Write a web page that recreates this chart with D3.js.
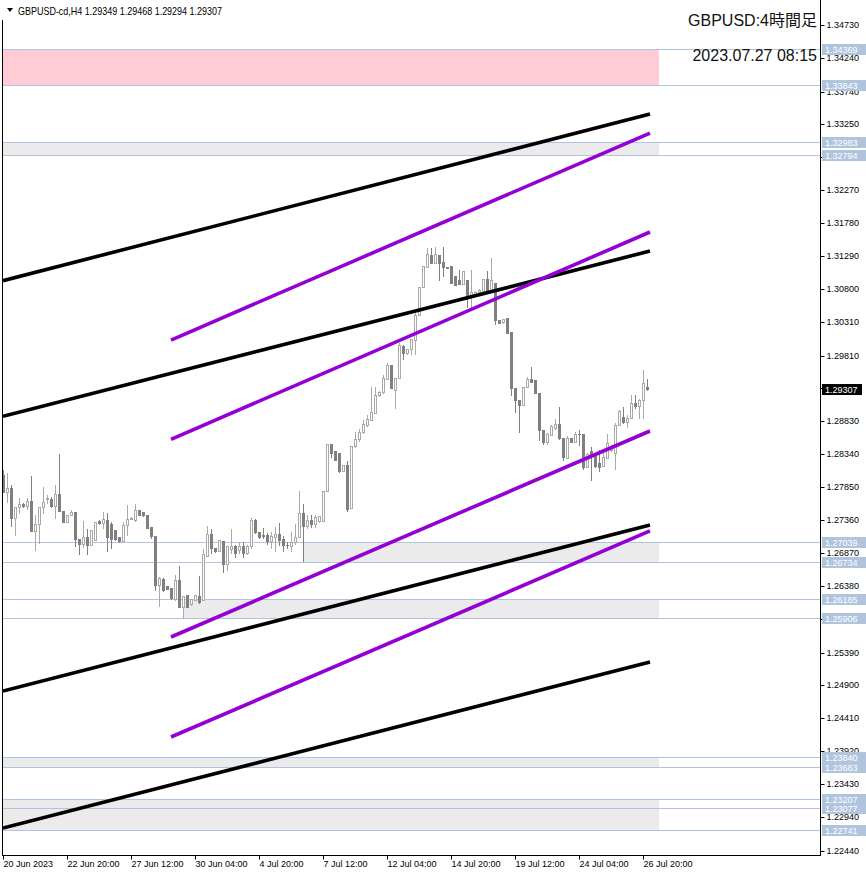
<!DOCTYPE html>
<html><head><meta charset="utf-8">
<script src="https://cdn.jsdelivr.net/npm/d3@7/dist/d3.min.js"></script>
<style>body{margin:0;background:#fff}svg{display:block}</style>
</head><body>
<script>
// ---------------- DATA ----------------
const symbolInfo = "GBPUSD-cd,H4  1.29349 1.29468 1.29294 1.29307";
const titleText = "GBPUSD:4時間足";
const stampText = "2023.07.27 08:15";
const lastPrice = 1.29307;

const opens = [1.28035,1.27777,1.27836,1.27390,1.27554,1.27603,1.27578,1.27643,1.27192,1.27306,
1.27554,1.27678,1.27678,1.27578,1.27752,1.27489,1.27330,1.27430,1.27474,1.27077,
1.27008,1.27107,1.26993,1.27058,1.27350,1.27316,1.27365,1.27301,1.27216,1.27107,
1.27043,1.27281,1.27380,1.27365,1.27504,1.27479,1.27440,1.27256,1.27117,1.26398,
1.26487,1.26373,1.26348,1.26185,1.26462,1.26066,1.26239,1.26115,1.26175,1.26234,
1.26165,1.26830,1.27157,1.26944,1.26894,1.27053,1.26705,1.26938,1.26978,1.26909,
1.26978,1.26869,1.26968,1.27365,1.27191,1.27132,1.27132,1.27043,1.27107,1.27155,
1.27082,1.26990,1.26968,1.27028,1.27107,1.27464,1.27266,1.27365,1.27306,1.27340,
1.27340,1.27787,1.28491,1.28382,1.28357,1.28099,1.28183,1.27539,1.28466,1.28565,
1.28679,1.28769,1.28853,1.28962,1.29225,1.29274,1.29458,1.29671,1.29299,1.29473,
1.29954,1.29845,1.29904,1.30043,1.30415,1.30827,1.31134,1.31308,1.31194,1.31308,
1.31199,1.31124,1.31144,1.30996,1.30936,1.30876,1.30936,1.30688,1.30713,1.30752,
1.30777,1.30946,1.30787,1.30886,1.30341,1.30311,1.30366,1.30167,1.29324,1.29150,
1.29076,1.29349,1.29458,1.29448,1.29250,1.28704,1.28520,1.28630,1.28729,1.28788,
1.28580,1.28282,1.28580,1.28530,1.28645,1.28640,1.28149,1.28382,1.28317,1.28218,
1.28159,1.28282,1.28397,1.28357,1.28778,1.28892,1.28828,1.28878,1.29111,1.29061,
1.29150,1.29349];
const highs = [1.28100,1.28060,1.27886,1.27554,1.27688,1.27620,1.27688,1.28020,1.27440,1.27554,
1.27851,1.27737,1.27700,1.27886,1.28350,1.27489,1.27440,1.27504,1.27474,1.27077,
1.27345,1.27226,1.27216,1.27335,1.27365,1.27479,1.27464,1.27330,1.27216,1.27107,
1.27330,1.27588,1.27400,1.27603,1.27504,1.27479,1.27440,1.27256,1.27117,1.26510,
1.26500,1.26380,1.26348,1.26547,1.26671,1.26234,1.26239,1.26190,1.26250,1.26522,
1.26929,1.27276,1.27226,1.26944,1.27058,1.27053,1.26968,1.27231,1.26990,1.27028,
1.27028,1.26990,1.27390,1.27375,1.27191,1.27241,1.27167,1.27191,1.27256,1.27325,
1.27117,1.27028,1.27191,1.27306,1.27801,1.27603,1.27439,1.27439,1.27439,1.27420,
1.27796,1.28491,1.28491,1.28382,1.28357,1.28183,1.28233,1.28466,1.28679,1.28714,
1.28853,1.28927,1.29349,1.29349,1.29280,1.29522,1.29696,1.29671,1.29473,1.29994,
1.29970,1.29910,1.30060,1.30440,1.30827,1.31144,1.31407,1.31407,1.31432,1.31308,
1.31432,1.31130,1.31144,1.30996,1.31085,1.31075,1.30936,1.31085,1.30770,1.30800,
1.30946,1.31075,1.31258,1.30886,1.30341,1.30360,1.30366,1.30167,1.29324,1.29150,
1.29349,1.29498,1.29646,1.29448,1.29250,1.28704,1.28650,1.28770,1.28863,1.29041,
1.28580,1.28615,1.28590,1.28679,1.28704,1.28640,1.28357,1.28456,1.28317,1.28406,
1.28416,1.28645,1.28480,1.28800,1.29002,1.29041,1.28927,1.29225,1.29225,1.29160,
1.29597,1.29468];
const lows = [1.27777,1.27623,1.27266,1.27142,1.27464,1.27560,1.27530,1.27192,1.26919,1.27018,
1.27464,1.27613,1.27560,1.27390,1.27489,1.27330,1.27330,1.27430,1.26968,1.26859,
1.26958,1.26854,1.26993,1.27058,1.27300,1.27241,1.26894,1.26944,1.27060,1.27030,
1.27043,1.27132,1.27370,1.27340,1.27430,1.27420,1.27241,1.27100,1.26324,1.26076,
1.26300,1.26330,1.26190,1.26175,1.26066,1.25902,1.26066,1.26100,1.26175,1.26125,
1.26165,1.26830,1.26869,1.26880,1.26894,1.26581,1.26621,1.26869,1.26809,1.26869,
1.26809,1.26850,1.26943,1.27167,1.27100,1.27092,1.27008,1.26943,1.26894,1.26993,
1.26894,1.26943,1.26894,1.27008,1.27107,1.26745,1.27241,1.27256,1.27256,1.27330,
1.27340,1.27787,1.28297,1.28248,1.28074,1.28099,1.27489,1.27539,1.28456,1.28545,
1.28655,1.28760,1.28853,1.28962,1.29210,1.29250,1.29458,1.29324,1.29026,1.29473,
1.29756,1.29835,1.29835,1.29835,1.30415,1.30827,1.31134,1.31194,1.31194,1.30936,
1.30996,1.31110,1.30886,1.30862,1.30872,1.30876,1.30539,1.30539,1.30700,1.30740,
1.30777,1.30777,1.30787,1.30281,1.30290,1.30300,1.30152,1.29225,1.28977,1.28679,
1.29076,1.29349,1.29410,1.29250,1.28555,1.28500,1.28500,1.28620,1.28720,1.28570,
1.28258,1.28282,1.28520,1.28520,1.28481,1.28119,1.28149,1.27960,1.28149,1.28099,
1.28159,1.28282,1.28390,1.28119,1.28778,1.28813,1.28744,1.28878,1.29026,1.28878,
1.28878,1.29294];
const closes = [1.27777,1.27836,1.27390,1.27554,1.27603,1.27578,1.27643,1.27192,1.27306,1.27554,
1.27628,1.27683,1.27578,1.27752,1.27489,1.27330,1.27430,1.27479,1.27077,1.27008,
1.27107,1.26993,1.27216,1.27335,1.27311,1.27380,1.27107,1.27077,1.27077,1.27043,
1.27281,1.27380,1.27385,1.27504,1.27430,1.27430,1.27241,1.27117,1.26398,1.26497,
1.26314,1.26338,1.26199,1.26462,1.26066,1.26234,1.26066,1.26185,1.26239,1.26135,
1.26854,1.27157,1.26944,1.26894,1.27058,1.26705,1.26968,1.26978,1.26869,1.26978,
1.26869,1.26968,1.27365,1.27191,1.27107,1.27127,1.27043,1.27127,1.27152,1.27067,
1.26993,1.26983,1.27028,1.27107,1.27464,1.27266,1.27365,1.27306,1.27405,1.27415,
1.27796,1.28491,1.28357,1.28248,1.28099,1.28183,1.27524,1.28466,1.28565,1.28679,
1.28793,1.28868,1.28977,1.29225,1.29264,1.29473,1.29671,1.29324,1.29473,1.29969,
1.29855,1.29904,1.30053,1.30415,1.30827,1.31144,1.31323,1.31194,1.31323,1.31194,
1.31124,1.31120,1.30896,1.30862,1.30872,1.31075,1.30688,1.30762,1.30762,1.30787,
1.30946,1.30777,1.30936,1.30341,1.30301,1.30351,1.30152,1.29324,1.29150,1.29076,
1.29349,1.29458,1.29423,1.29250,1.28704,1.28520,1.28645,1.28764,1.28788,1.28580,
1.28297,1.28580,1.28530,1.28645,1.28640,1.28149,1.28347,1.28347,1.28159,1.28149,
1.28307,1.28506,1.28466,1.28778,1.28987,1.28828,1.28878,1.29111,1.29066,1.29150,
1.29408,1.29307];

// time axis labels (bar index of each label)
const timeLabelBars = [0,16,32,48,64,80,96,112,128,144,160];
const timeLabels = ["20 Jun 2023","22 Jun 20:00","27 Jun 12:00","30 Jun 04:00","4 Jul 20:00",
  "7 Jul 12:00","12 Jul 04:00","14 Jul 20:00","19 Jul 12:00","24 Jul 04:00","26 Jul 20:00"];

// price axis tick labels
const priceTicks = [1.34730,1.34240,1.33740,1.33250,1.32760,1.32270,1.31780,1.31290,1.30800,1.30310,
  1.29810,1.29320,1.28830,1.28340,1.27850,1.27360,1.26870,1.26380,1.25890,1.25390,1.24900,1.24410,
  1.23920,1.23430,1.22940,1.22440];

// horizontal levels
const levels = [1.34369,1.33843,1.32983,1.32794,1.27039,1.26734,1.26185,1.25906,1.23840,1.23683,1.23207,1.23077,1.22741];

// zones (rectangles): top, bottom, start bar (-1 = chart left), kind
const zoneTops    = [1.34369,1.32983,1.27039,1.26185,1.23840,1.23207];
const zoneBottoms = [1.33843,1.32794,1.26734,1.25906,1.23683,1.22741];
const zoneStarts  = [-1,-1,75,45,-1,-1];
const zoneKinds   = ["pink","grey","grey","grey","grey","grey"];
const zoneEndBar = 164;

// channel lines: [bar0, price0, bar1, price1]
const blackLines = [
  [0,1.30925,161.75,1.33405],
  [0,1.28905,161.75,1.31366],
  [0,1.24817,161.75,1.27288],
  [0,1.22778,161.75,1.25249]
];
const purpleLines = [
  [42,1.30041,161.75,1.33122],
  [42,1.28563,161.75,1.31649],
  [42,1.25621,161.75,1.28687],
  [42,1.24132,161.75,1.27199]
];

// ---------------- DRAW ----------------
const W = 866, H = 874;
const plotL = 2, plotR = 820, plotB = 855;
const svg = d3.select("body").append("svg").attr("width", W).attr("height", H)
  .style("font-family", "'Liberation Sans', Arial, sans-serif");
svg.append("rect").attr("width", W).attr("height", H).attr("fill", "#fff");

const x = d3.scaleLinear().domain([0, 161]).range([3, 647]);
const y = d3.scaleLinear().domain([1.22440, 1.34730]).range([850.7, 25]);

svg.append("defs").append("clipPath").attr("id", "plot")
  .append("rect").attr("x", plotL + 1).attr("y", 0).attr("width", plotR - plotL - 1).attr("height", plotB);

const plot = svg.append("g").attr("clip-path", "url(#plot)");

// zones
const zoneColor = {pink: "#ffccd5", grey: "#ebebeb"};
zoneTops.forEach((t, i) => {
  const x0 = zoneStarts[i] < 0 ? plotL : Math.round(x(zoneStarts[i]));
  const x1 = Math.round(x(zoneEndBar));
  const y0 = Math.round(y(t)), y1 = Math.round(y(zoneBottoms[i]));
  plot.append("rect").attr("x", x0).attr("y", y0).attr("width", x1 - x0).attr("height", y1 - y0)
    .attr("fill", zoneColor[zoneKinds[i]]);
});

// level lines
levels.forEach(l => {
  const yy = Math.round(y(l)) + 0.5;
  plot.append("line").attr("x1", plotL).attr("x2", plotR).attr("y1", yy).attr("y2", yy)
    .attr("stroke", "#b0c4de").attr("stroke-width", 1);
});

// candles
const bullCol = "#a9a9a9", bearCol = "#808080";
const cg = plot.append("g");
opens.forEach((o, i) => {
  const c = closes[i], h = highs[i], l = lows[i];
  const cx = Math.round(x(i));
  const bull = c >= o;
  const col = bull ? bullCol : bearCol;
  const yh = Math.round(y(Math.max(h, o, c))), yl = Math.round(y(Math.min(l, o, c)));
  const yt = Math.round(y(Math.max(o, c))), yb = Math.round(y(Math.min(o, c)));
  cg.append("rect").attr("x", cx).attr("y", yh).attr("width", 1).attr("height", yl - yh + 1).attr("fill", col);
  if (bull) {
    cg.append("rect").attr("x", cx - 0.5).attr("y", yt + 0.5).attr("width", 2).attr("height", Math.max(0, yb - yt))
      .attr("fill", "#fff").attr("stroke", col).attr("stroke-width", 1);
  } else {
    cg.append("rect").attr("x", cx - 1).attr("y", yt).attr("width", 3).attr("height", Math.max(1, yb - yt + 1))
      .attr("fill", col);
  }
});

// channel lines
function drawLines(arr, color) {
  arr.forEach(d => {
    plot.append("line").attr("x1", x(d[0])).attr("y1", y(d[1])).attr("x2", x(d[2])).attr("y2", y(d[3]))
      .attr("stroke", color).attr("stroke-width", 3.6).attr("stroke-linecap", "butt");
  });
}
drawLines(blackLines, "#000");
drawLines(purpleLines, "#9400d3");

// frame
svg.append("line").attr("x1", plotL + 0.5).attr("x2", plotL + 0.5).attr("y1", 20).attr("y2", plotB + 0.5).attr("stroke", "#000");
svg.append("line").attr("x1", plotR + 0.5).attr("x2", plotR + 0.5).attr("y1", 0).attr("y2", plotB + 0.5).attr("stroke", "#000");
svg.append("line").attr("x1", plotL).attr("x2", plotR + 1).attr("y1", plotB + 0.5).attr("y2", plotB + 0.5).attr("stroke", "#000");

// price axis
const yAxis = d3.axisRight(y).tickValues(priceTicks).tickFormat(d3.format(".5f")).tickSize(4).tickPadding(2);
const ya = svg.append("g").attr("transform", `translate(${plotR + 0.5},0)`).call(yAxis);
ya.select(".domain").remove();
ya.selectAll(".tick line").attr("stroke", "#000");
ya.selectAll(".tick text").attr("font-size", 9).attr("font-family", "'Liberation Sans', Arial, sans-serif").attr("fill", "#000");
ya.selectAll(".tick").attr("transform", d => `translate(0,${Math.round(y(d)) + 0.5})`);

// highlighted level labels
levels.forEach(l => {
  const yy = Math.round(y(l));
  svg.append("rect").attr("x", 822).attr("y", yy - 5).attr("width", 44).attr("height", 11).attr("fill", "#b0c4de");
  svg.append("text").attr("x", 825).attr("y", yy + 4).attr("font-size", 9).attr("fill", "#fff").text(d3.format(".5f")(l));
});
// last price label
{
  const yy = Math.round(y(lastPrice));
  svg.append("rect").attr("x", 822).attr("y", yy - 5).attr("width", 40).attr("height", 11).attr("fill", "#000");
  svg.append("text").attr("x", 825).attr("y", yy + 4).attr("font-size", 9).attr("fill", "#fff").text(d3.format(".5f")(lastPrice));
}

// time axis
const xAxis = d3.axisBottom(x).tickValues(timeLabelBars).tickFormat((d, i) => timeLabels[i]).tickSize(4).tickPadding(1);
const xa = svg.append("g").attr("transform", `translate(0.5,${plotB + 0.5})`).call(xAxis);
xa.select(".domain").remove();
xa.selectAll(".tick line").attr("stroke", "#000");
xa.selectAll(".tick").attr("transform", d => `translate(${Math.round(x(d))},0)`);
xa.selectAll(".tick text").attr("font-size", 9).attr("font-family", "'Liberation Sans', Arial, sans-serif")
  .attr("fill", "#000").attr("text-anchor", "start").attr("x", 0).attr("dy", "0.71em");

// info header
svg.append("path").attr("d", "M7,8 L13,8 L10,12 Z").attr("fill", "#000");
svg.append("text").attr("x", 18).attr("y", 15).attr("font-size", 10.5).attr("fill", "#000")
  .attr("textLength", 204).attr("lengthAdjust", "spacingAndGlyphs").text(symbolInfo);

// title + stamp
svg.append("text").attr("x", 817).attr("y", 26).attr("text-anchor", "end").attr("font-size", 16)
  .attr("font-family", "'Liberation Sans','Noto Sans CJK JP',sans-serif").attr("fill", "#111").text(titleText);
svg.append("text").attr("x", 817).attr("y", 61).attr("text-anchor", "end").attr("font-size", 16)
  .attr("font-family", "'Liberation Sans','Noto Sans CJK JP',sans-serif").attr("fill", "#111").text(stampText);
</script>
</body></html>
